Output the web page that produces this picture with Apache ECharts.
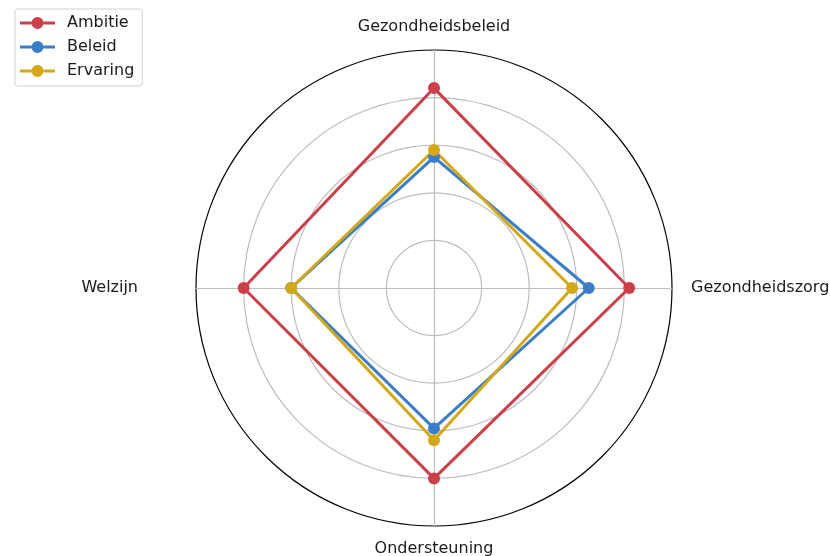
<!DOCTYPE html>
<html>
<head>
<meta charset="utf-8">
<script src="https://cdn.jsdelivr.net/npm/echarts@6/dist/echarts.min.js"></script>
<style>
html,body{margin:0;padding:0;background:#fff;}
#chart{width:830px;height:556px;}
</style>
</head>
<body>
<div id="chart"></div>
<script>
// Axes in drawing order (ECharts radar goes counter-clockwise from the top)
const categories = ['Gezondheidsbeleid', 'Welzijn', 'Ondersteuning', 'Gezondheidszorg'];
const seriesNames = ['Ambitie', 'Beleid', 'Ervaring'];
const ambitie  = [4.2, 4.0, 4.0, 4.1];
const beleid   = [2.75, 3.0, 2.95, 3.25];
const ervaring = [2.9, 3.0, 3.2, 2.9];
const axisMax = 5;
const colors = ['#cd3f48', '#3a7dc8', '#d4a818'];

const namePad = {
  'Gezondheidsbeleid': [0, 0, 3, 0],
  'Welzijn': [0, 46, 0, 0],
  'Ondersteuning': [3, 0, 0, 0],
  'Gezondheidszorg': [0, 0, 0, 7]
};
const rich = {};
categories.forEach((c, i) => { rich['n' + i] = { padding: namePad[c], fontSize: 16, color: '#1a1a1a', fontFamily: 'DejaVu Sans' }; });

const legendIcon = 'path://M0,4.5H11.5V7.5H0Z M23.5,4.5H35V7.5H23.5Z M23.5,6A6,6 0 1 1 11.5,6A6,6 0 1 1 23.5,6Z';

const allData = [ambitie, beleid, ervaring];
const chart = echarts.init(document.getElementById('chart'));
chart.setOption({
  animation: false,
  backgroundColor: '#fff',
  legend: {
    left: 15, top: 9, orient: 'vertical',
    data: seriesNames.map(n => ({ name: n, icon: legendIcon })),
    itemWidth: 35, itemHeight: 12, itemGap: 8,
    padding: [6, 8, 7, 5],
    borderColor: '#d0d0d0', borderWidth: 1, borderRadius: 3,
    backgroundColor: '#fff',
    textStyle: { fontSize: 16, color: '#1a1a1a', fontFamily: 'DejaVu Sans', padding: [0, 0, 0, 7] }
  },
  radar: {
    center: [434, 288],
    radius: 238,
    startAngle: 90,
    shape: 'circle',
    splitNumber: 5,
    nameGap: 12,
    indicator: categories.map(c => ({ name: c, max: axisMax, min: 0 })),
    axisName: {
      formatter: function (v) { return '{n' + categories.indexOf(v) + '|' + v + '}'; },
      rich: rich,
      fontSize: 16, color: '#1a1a1a', fontFamily: 'DejaVu Sans'
    },
    axisLine: { show: true, lineStyle: { color: '#bdbdbd', width: 1.2 } },
    splitLine: { show: true, lineStyle: { color: ['#bdbdbd', '#bdbdbd', '#bdbdbd', '#bdbdbd', '#bdbdbd', '#000'], width: 1.2 } },
    splitArea: { show: false }
  },
  series: seriesNames.map((n, i) => ({
    type: 'radar',
    name: n,
    symbol: 'circle',
    symbolSize: 12,
    lineStyle: { width: 3, color: colors[i] },
    itemStyle: { color: colors[i] },
    data: [{ name: n, value: allData[i] }]
  }))
});
</script>
</body>
</html>
